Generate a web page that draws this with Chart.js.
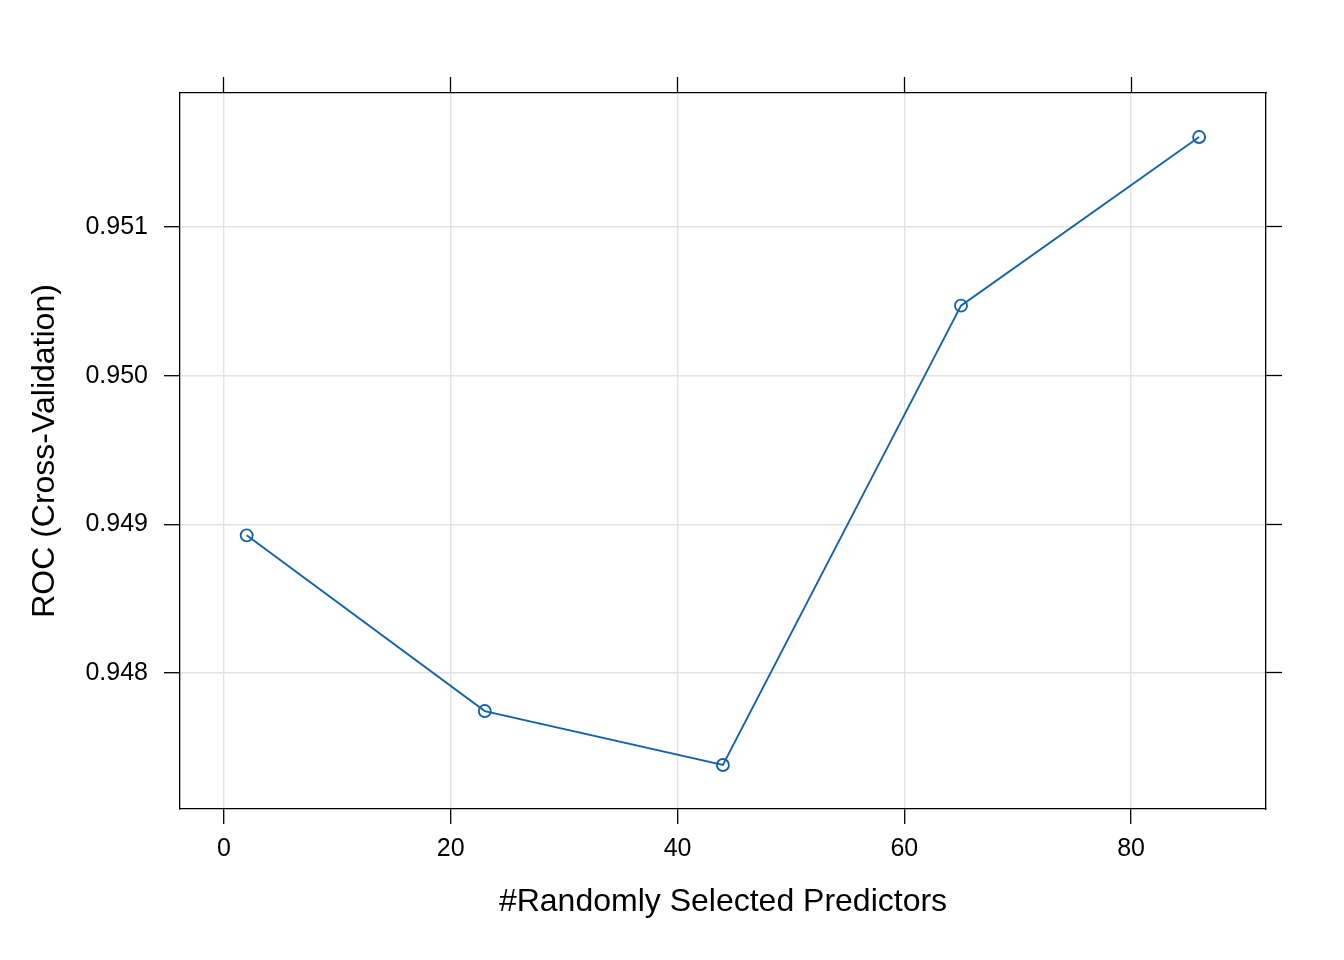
<!DOCTYPE html>
<html>
<head>
<meta charset="utf-8">
<script src="https://cdn.jsdelivr.net/npm/chart.js@4"></script>
<style>
   html, body { margin: 0; padding: 0; background: #fff; }
</style>
</head>
<body>
<canvas id="rocChart" width="1344" height="960"></canvas>
<script>
"use strict";

// number of predictors tried, and the cross-validated ROC for each
const predictors = [2, 23, 44, 65, 86];
const rocValues = [0.948926, 0.947744, 0.947381, 0.950471, 0.951605];

const xTickValues = [0, 20, 40, 60, 80];
const yTickValues = [0.948, 0.949, 0.950, 0.951];

const xRange = [-3.88, 91.9];
const yRange = [0.9470852, 0.9519013];

const lineColor = "#1463aa";
const fontFamily = "'Liberation Sans', Arial, Helvetica, sans-serif";

const points = predictors.map((p, i) => ({ x: p, y: rocValues[i] }));

function fixTicks(values) {
   return function (scale) {
      scale.ticks = values.map((v) => ({ value: v }));
   };
}

function sideScale(position, range, size) {
   return {
      type: "linear",
      position: position,
      min: range[0],
      max: range[1],
      afterBuildTicks: fixTicks(position === "top" ? xTickValues : yTickValues),
      afterFit: (scale) => {
         if (position === "top") scale.height = size;
         else scale.width = size;
      },
      ticks: { display: false },
      grid: {
         drawOnChartArea: false,
         tickColor: "#000",
         tickLength: 16,
         tickWidth: 1.3,
      },
      border: { color: "#000", width: 1.3 },
   };
}

const ctx = document.getElementById("rocChart").getContext("2d");
const rocChart = new Chart(ctx, {
   type: "line",
   data: {
      datasets: [
         {
            data: points,
            borderColor: lineColor,
            borderWidth: 1.9,
            backgroundColor: "rgba(0,0,0,0)",
            pointStyle: "circle",
            pointRadius: 6,
            pointBorderWidth: 1.9,
            pointBorderColor: lineColor,
            pointBackgroundColor: "rgba(0,0,0,0)",
            tension: 0,
            fill: false,
            xAxisID: "x",
            yAxisID: "y",
         },
      ],
   },
   options: {
      responsive: false,
      animation: false,
      layout: { padding: 0 },
      plugins: {
         legend: { display: false },
         tooltip: { enabled: false },
      },
      scales: {
         x: {
            type: "linear",
            position: "bottom",
            min: xRange[0],
            max: xRange[1],
            afterBuildTicks: fixTicks(xTickValues),
            afterFit: (scale) => { scale.height = 151; },
            ticks: {
               color: "#000",
               padding: 10,
               maxRotation: 0,
               font: { family: fontFamily, size: 25 },
               callback: (v) => String(v),
            },
            grid: {
               color: "#e3e3e3",
               lineWidth: 1.4,
               tickColor: "#000",
               tickLength: 15,
               tickWidth: 1.3,
            },
            border: { color: "#000", width: 1.3 },
            title: {
               display: true,
               text: "#Randomly Selected Predictors",
               color: "#000",
               font: { family: fontFamily, size: 32 },
               padding: { top: 0, bottom: 39 },
            },
         },
         y: {
            type: "linear",
            position: "left",
            min: yRange[0],
            max: yRange[1],
            afterBuildTicks: fixTicks(yTickValues),
            afterFit: (scale) => { scale.width = 180; },
            ticks: {
               color: "#000",
               padding: 16,
               font: { family: fontFamily, size: 25 },
               callback: (v) => v.toFixed(3),
            },
            grid: {
               color: "#e3e3e3",
               lineWidth: 1.4,
               tickColor: "#000",
               tickLength: 16,
               tickWidth: 1.3,
            },
            border: { color: "#000", width: 1.3 },
            title: {
               display: true,
               text: "ROC (Cross-Validation)",
               color: "#000",
               font: { family: fontFamily, size: 32 },
               padding: { top: 26, bottom: 0 },
            },
         },
         x2: sideScale("top", xRange, 93),
         y2: sideScale("right", yRange, 78),
      },
   },
});
</script>
</body>
</html>
